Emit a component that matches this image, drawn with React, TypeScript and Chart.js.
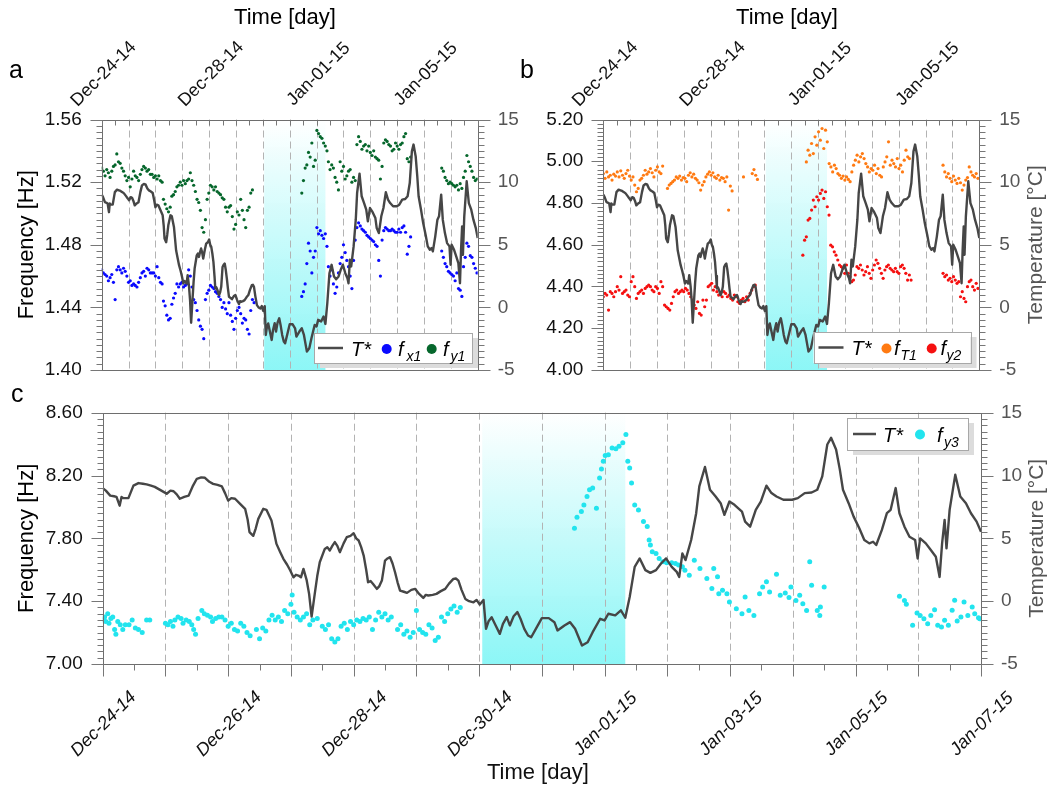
import React, { useEffect, useRef } from "react";
import { Chart, registerables } from "chart.js";
Chart.register(...registerables);

const FONT = '"Liberation Sans", Arial, Helvetica, sans-serif';
const W = 1050;
const H = 790;

// ---------------- axis labels ----------------
const topDateDays = [0, 4, 8, 12];
const topDateLabels = ["Dec-24-14", "Dec-28-14", "Jan-01-15", "Jan-05-15"];
const bottomDateDays = [0, 2, 4, 6, 8, 10, 12, 14];
const bottomDateLabels = ["Dec-24-14", "Dec-26-14", "Dec-28-14", "Dec-30-14", "Jan-01-15", "Jan-03-15", "Jan-05-15", "Jan-07-15"];
const coldPeriod = [6.05, 8.33];

// ---------------- T* (temperature, °C) vs day ----------------
const tDays = [0.00, 0.05, 0.12, 0.18, 0.22, 0.27, 0.30, 0.33, 0.41, 0.45, 0.49, 0.57, 0.64, 0.70, 0.77, 0.83, 0.90, 0.97, 1.02, 1.08, 1.13, 1.18, 1.23, 1.30, 1.37, 1.44, 1.50, 1.57, 1.63, 1.70, 1.76, 1.83, 1.90, 1.95, 2.00, 2.05, 2.11, 2.19, 2.27, 2.31, 2.34, 2.40, 2.44, 2.48, 2.56, 2.61, 2.69, 2.73, 2.77, 2.83, 2.88, 2.94, 2.99, 3.04, 3.08, 3.12, 3.16, 3.20, 3.25, 3.29, 3.33, 3.38, 3.42, 3.46, 3.54, 3.58, 3.62, 3.66, 3.70, 3.74, 3.78, 3.84, 3.89, 3.95, 4.00, 4.04, 4.08, 4.12, 4.16, 4.20, 4.23, 4.27, 4.31, 4.37, 4.41, 4.45, 4.50, 4.54, 4.58, 4.62, 4.66, 4.70, 4.74, 4.80, 4.85, 4.92, 4.98, 5.04, 5.11, 5.15, 5.19, 5.26, 5.32, 5.39, 5.46, 5.52, 5.59, 5.63, 5.67, 5.72, 5.78, 5.84, 5.91, 5.96, 6.01, 6.07, 6.11, 6.15, 6.20, 6.26, 6.33, 6.38, 6.44, 6.49, 6.55, 6.61, 6.66, 6.72, 6.78, 6.83, 6.92, 7.00, 7.11, 7.20, 7.25, 7.36, 7.45, 7.53, 7.64, 7.73, 7.81, 7.93, 8.00, 8.06, 8.17, 8.26, 8.33, 8.40, 8.48, 8.56, 8.65, 8.73, 8.82, 8.90, 8.98, 9.07, 9.15, 9.19, 9.24, 9.29, 9.38, 9.46, 9.51, 9.60, 9.68, 9.77, 9.85, 9.91, 9.99, 10.07, 10.19, 10.24, 10.32, 10.41, 10.49, 10.58, 10.66, 10.74, 10.85, 10.99, 11.08, 11.19, 11.30, 11.39, 11.47, 11.55, 11.61, 11.69, 11.75, 11.80, 11.89, 11.97, 12.06, 12.14, 12.22, 12.28, 12.33, 12.42, 12.50, 12.56, 12.64, 12.70, 12.78, 12.86, 12.95, 12.99, 13.03, 13.12, 13.20, 13.28, 13.34, 13.38, 13.42, 13.45, 13.50, 13.59, 13.67, 13.76, 13.84, 13.93, 14.00];
const tVals = [9.0, 8.8, 8.4, 8.35, 8.3, 7.6, 8.3, 8.2, 8.2, 8.7, 9.2, 9.4, 9.35, 9.3, 9.2, 9.1, 8.9, 8.7, 8.55, 8.8, 8.75, 8.5, 8.15, 8.3, 8.4, 9.2, 9.74, 9.85, 9.82, 9.5, 9.34, 9.25, 9.13, 8.6, 8.0, 8.2, 8.15, 7.75, 7.35, 6.5, 5.5, 5.2, 5.8, 6.55, 7.35, 7.27, 6.42, 5.5, 4.56, 3.9, 3.37, 2.9, 2.44, 1.9, 2.1, 2.04, 1.9, 2.57, 1.7, 0.58, -1.23, 0.58, 2.0, 3.1, 4.16, 4.3, 4.03, 4.4, 4.7, 4.4, 3.9, 4.6, 5.09, 5.2, 5.41, 5.0, 4.83, 4.3, 3.63, 2.5, 1.51, 1.6, 1.37, 0.98, 1.2, 1.64, 3.23, 3.4, 3.5, 3.0, 2.3, 1.5, 0.84, 0.75, 0.66, 0.9, 0.98, 0.6, 0.26, 0.5, 0.45, 0.5, 0.58, 0.8, 0.98, 1.4, 1.77, 1.8, 1.64, 0.9, 0.18, 0.0, -0.09, 0.1, -0.27, 0.1, -2.2, -1.6, -1.28, -1.9, -2.6, -1.8, -1.27, -1.93, -1.2, -0.87, -1.4, -2.2, -2.73, -2.87, -2.07, -1.35, -1.35, -1.67, -2.33, -1.93, -1.67, -2.2, -3.53, -3.27, -2.47, -1.4, -1.53, -1.0, -1.13, -0.73, -1.32, 0.33, 2.73, 3.4, 2.47, 2.25, 2.47, 3.0, 3.4, 2.73, 2.33, 1.93, 3.8, 3.27, 4.87, 7.0, 9.13, 10.68, 8.87, 8.33, 7.8, 6.87, 7.93, 7.67, 7.13, 6.33, 5.93, 7.27, 7.93, 9.19, 8.6, 8.33, 8.07, 8.07, 8.2, 8.6, 8.65, 8.87, 9.93, 12.47, 13.0, 12.07, 10.47, 8.87, 7.8, 6.73, 5.8, 4.87, 4.6, 4.73, 4.47, 5.67, 7.0, 7.27, 9.0, 7.0, 5.93, 5.13, 4.87, 3.4, 5.0, 4.6, 4.07, 3.53, 1.93, 4.6, 6.47, 4.2, 7.27, 10.07, 8.33, 7.8, 7.0, 6.33, 5.53];

// ---------------- panel a: f_x1 and f_y1 [Hz] (regular 1.5 h sampling in segments) ----------------
const STEP_A = 0.0625;
const fx1Starts = [0, 2.30, 7.45, 8.44, 12.66];
const fx1S1 = [1.464, 1.462, 1.461, 1.460, 1.457, 1.459, 1.461, 1.456, 1.445, 1.464, 1.466, 1.464, 1.462, 1.465, 1.463, 1.460, 1.456, 1.457, 1.454, 1.455, 1.454, 1.453, 1.456, 1.459, 1.462, 1.463, 1.460, 1.465, 1.464, 1.462, 1.462, 1.462, 1.460, 1.466, 1.459, 1.456, 1.455];
const fx1S2 = [1.444, 1.441, 1.435, 1.432, 1.433, 1.442, 1.446, 1.449, 1.455, 1.453, 1.455, 1.456, 1.453, 1.454, 1.455, 1.464, 1.460, 1.453, 1.445, 1.443, 1.438, 1.432, 1.428, 1.426, 1.420, 1.445, 1.449, 1.451, 1.454, 1.453, 1.452, 1.450, 1.449, 1.447, 1.445, 1.440, 1.443, 1.439, 1.436, 1.443, 1.435, 1.431, 1.426, 1.433, 1.438, 1.440, 1.436, 1.430, 1.433, 1.432, 1.426, 1.423, 1.438, 1.445, 1.443];
const fx1S3 = [1.447, 1.450, 1.455, 1.468, 1.481, 1.476, 1.462, 1.472, 1.476, 1.491, 1.487, 1.489, 1.486, 1.484, 1.487, 1.479];
const fx1S4 = [1.466, 1.460, 1.464, 1.455, 1.449, 1.453, 1.462, 1.468, 1.472, 1.480, 1.475, 1.470, 1.466, 1.460, 1.452, 1.470, 1.483, 1.491, 1.494, 1.492, 1.490, 1.489, 1.488, 1.486, 1.485, 1.484, 1.483, 1.482, 1.480, 1.479, 1.470, 1.460, 1.483, 1.489, 1.491, 1.490, 1.489, 1.489, 1.490, 1.489, 1.488, 1.488, 1.490, 1.488, 1.491, 1.492, 1.488, 1.474, 1.479, 1.485];
const fx1S5 = [1.476, 1.472, 1.468, 1.466, 1.463, 1.462, 1.461, 1.460, 1.457, 1.462, 1.452, 1.451, 1.447, 1.466, 1.472, 1.481, 1.479, 1.473, 1.472, 1.468, 1.465, 1.462];

const fy1Starts = [0, 2.30, 7.45, 8.44, 12.66];
const fy1S1 = [1.529, 1.527, 1.524, 1.528, 1.526, 1.523, 1.527, 1.530, 1.531, 1.538, 1.533, 1.532, 1.529, 1.527, 1.524, 1.521, 1.523, 1.517, 1.522, 1.527, 1.524, 1.523, 1.521, 1.525, 1.528, 1.530, 1.529, 1.527, 1.528, 1.525, 1.525, 1.523, 1.524, 1.522, 1.524, 1.521, 1.520];
const fy1S2 = [1.509, 1.506, 1.503, 1.501, 1.504, 1.511, 1.512, 1.514, 1.517, 1.518, 1.520, 1.518, 1.521, 1.519, 1.521, 1.522, 1.526, 1.521, 1.518, 1.514, 1.509, 1.507, 1.502, 1.491, 1.488, 1.496, 1.509, 1.513, 1.518, 1.517, 1.515, 1.517, 1.514, 1.513, 1.512, 1.510, 1.509, 1.504, 1.501, 1.504, 1.505, 1.498, 1.490, 1.493, 1.501, 1.499, 1.509, 1.502, 1.496, 1.491, 1.502, 1.504, 1.513, 1.515];
const fy1S3 = [1.513, 1.521, 1.529, 1.531, 1.539, 1.536, 1.545, 1.530, 1.534, 1.553, 1.551, 1.549, 1.548, 1.545, 1.543, 1.540];
const fy1S4 = [1.533, 1.528, 1.531, 1.529, 1.523, 1.520, 1.515, 1.533, 1.527, 1.530, 1.522, 1.524, 1.527, 1.528, 1.520, 1.523, 1.521, 1.544, 1.549, 1.546, 1.541, 1.543, 1.544, 1.540, 1.543, 1.539, 1.537, 1.540, 1.536, 1.535, 1.534, 1.522, 1.530, 1.545, 1.547, 1.546, 1.544, 1.543, 1.540, 1.541, 1.545, 1.543, 1.541, 1.544, 1.545, 1.549, 1.551, 1.535, 1.533, 1.536];
const fy1S5 = [1.529, 1.527, 1.523, 1.521, 1.519, 1.520, 1.519, 1.518, 1.517, 1.518, 1.515, 1.519, 1.516, 1.523, 1.527, 1.537, 1.533, 1.530, 1.527, 1.523, 1.521, 1.522];

// ---------------- panel b: f_T1 and f_y2 [Hz] ----------------
const STEP_B = 0.065;
const fT1Starts = [0, 2.39, 5.22, 7.56, 8.41, 12.65];
const fT1S1 = [4.941, 4.918, 4.949, 4.925, 4.933, 4.910, 4.938, 4.929, 4.949, 4.925, 4.954, 4.933, 4.918, 4.941, 4.957, 4.929, 4.910, 4.925, 4.886, 4.854, 4.870, 4.910, 4.918, 4.933, 4.957, 4.938, 4.949, 4.965, 4.945, 4.925, 4.957, 4.973, 4.949, 4.941, 4.977];
const fT1S2 = [4.870, 4.886, 4.894, 4.902, 4.910, 4.925, 4.918, 4.929, 4.910, 4.922, 4.918, 4.902, 4.933, 4.945, 4.925, 4.938, 4.918, 4.910, 4.897, 4.862, 4.886, 4.902, 4.925, 4.938, 4.949, 4.933, 4.945, 4.925, 4.918, 4.933, 4.910, 4.922, 4.918, 4.902, 4.925, 4.766, 4.881, 4.858];
const fT1S3 = [4.925, null, null, null, null, 4.941, 4.960, 4.933, 4.913];
const fT1S4 = [4.997, 5.053, 5.029, 5.085, 5.037, 5.117, 5.077, 5.141, 5.101, 5.157, 5.061, 5.149, 5.093];
const fT1S5 = [4.989, 4.973, 4.949, 4.981, 4.965, 4.941, 4.933, 4.918, 4.929, 4.910, 4.925, 4.913, 4.902, 4.949, 4.981, 5.005, 5.029, 4.997, 5.021, 5.037, 5.013, 4.989, 4.973, 4.949, 4.965, 4.957, 4.981, 4.941, 4.965, 4.933, 4.925, 4.973, 4.997, 5.021, 5.093, 4.981, 5.005, 4.989, 4.973, 5.013, 4.965, 4.981, 4.949, 5.005, 5.053, 5.021, 5.013];
const fT1S6 = [4.981, 4.949, 4.925, 4.941, 4.918, 4.902, 4.929, 4.910, 4.894, 4.918, 4.897, 4.862, 4.886, 4.910, 4.922, 4.973, 4.949, 4.933, 4.925, 4.941, 4.918];

const fy2Starts = [0, 2.28, 7.43, 8.47, 12.65];
const fy2S1 = [4.351, 4.367, 4.359, 4.287, 4.375, 4.367, 4.351, 4.375, 4.399, 4.383, 4.447, 4.367, 4.375, 4.383, 4.359, 4.351, 4.423, 4.447, 4.399, 4.343, 4.367, 4.375, 4.383, 4.367, 4.391, 4.399, 4.407, 4.399, 4.383, 4.375, 4.399, 4.391, 4.367, 4.423, 4.399];
const fy2S2 = [4.311, 4.303, 4.295, 4.287, 4.319, 4.351, 4.375, 4.383, 4.367, 4.375, 4.383, 4.375, 4.391, 4.383, 4.367, 4.351, 4.335, 4.311, 4.295, 4.327, 4.271, 4.263, 4.335, 4.303, 4.335, 4.399, 4.407, 4.415, 4.383, 4.399, 4.375, 4.359, 4.367, 4.351, 4.375, 4.367, 4.351, 4.359, 4.343, 4.335, 4.359, 4.351, 4.327, 4.319, 4.335, 4.343, 4.327, 4.351, 4.335, 4.367, 4.383, 4.399, 4.407];
const fy2S3 = [4.550, 4.622, 4.638, 4.718, 4.726, 4.766, 4.814, 4.782, 4.830, 4.814, 4.846, 4.862, 4.822, 4.854, 4.782, 4.742];
const fy2S4 = [4.598, 4.590, 4.566, 4.550, 4.527, 4.503, 4.495, 4.487, 4.463, 4.503, 4.463, 4.447, 4.423, 4.431, 4.455, 4.495, 4.487, 4.503, 4.479, 4.455, 4.471, 4.495, 4.463, 4.439, 4.479, 4.503, 4.527, 4.511, 4.487, 4.463, 4.439, 4.479, 4.495, 4.503, 4.487, 4.479, 4.471, 4.487, 4.471, 4.463, 4.495, 4.503, 4.487, 4.463, 4.431, 4.455, 4.431];
const fy2S5 = [4.463, 4.447, 4.455, 4.431, 4.439, 4.423, 4.447, 4.431, 4.415, 4.423, 4.351, 4.375, 4.343, 4.327, 4.399, 4.423, 4.431, 4.399, 4.383, 4.415, 4.391];

// ---------------- panel c: f_y3 [Hz] ----------------
const fy3Days = [0.01, 0.03, 0.05, 0.08, 0.10, 0.13, 0.16, 0.19, 0.21, 0.24, 0.28, 0.32, 0.36, 0.42, 0.47, 0.52, 0.57, 0.63, 0.70, 0.75,
  1.00, 1.04, 1.08, 1.12, 1.15, 1.20, 1.25, 1.28, 1.33, 1.38, 1.42, 1.45, 1.48, 1.52, 1.58, 1.62, 1.67, 1.72, 1.75, 1.80, 1.85, 1.90, 1.95,
  2.00, 2.05, 2.10, 2.15, 2.20, 2.25, 2.30, 2.35, 2.45, 2.50, 2.55, 2.60, 2.65, 2.70, 2.75, 2.80, 2.85, 2.90, 2.95, 3.00, 3.02, 3.05, 3.10, 3.15, 3.20, 3.25, 3.30, 3.35, 3.42,
  3.50, 3.55, 3.60, 3.65, 3.70, 3.75, 3.80, 3.85, 3.90, 3.95, 4.00, 4.05, 4.10, 4.15, 4.20, 4.25, 4.30, 4.35, 4.40, 4.45, 4.50, 4.55, 4.60,
  4.70, 4.75, 4.80, 4.85, 4.90, 4.95, 5.00, 5.05, 5.10, 5.15, 5.20, 5.25, 5.30, 5.35, 5.40, 5.45, 5.50, 5.55, 5.60, 5.65, 5.70,
  7.52, 7.56, 7.63, 7.67, 7.72, 7.76, 7.81, 7.87, 7.92, 7.95, 7.98, 8.01, 8.06, 8.12, 8.18, 8.23, 8.29, 8.34, 8.37, 8.40, 8.43, 8.48, 8.54, 8.62, 8.68, 8.71, 8.73, 8.76, 8.82, 8.87, 8.93, 8.99, 9.07, 9.13, 9.18,
  9.24, 9.28, 9.35, 9.43, 9.52, 9.63, 9.71, 9.74, 9.80, 9.82, 9.88, 9.95, 9.99, 10.10, 10.19, 10.24, 10.30, 10.38, 10.47, 10.52, 10.58, 10.63, 10.74, 10.80, 10.88, 10.94, 10.97, 11.05, 11.11, 11.16, 11.22, 11.27, 11.30, 11.39, 11.43, 11.44, 11.50,
  12.70, 12.78, 12.81, 12.91, 12.98, 13.03, 13.09, 13.15, 13.20, 13.26, 13.31, 13.37, 13.42, 13.48, 13.54, 13.58, 13.62, 13.68, 13.73, 13.79, 13.86, 13.90, 13.96, 13.98];
const fy3Vals = [7.28, 7.30, 7.27, 7.32, 7.26, 7.29, 7.30, 7.22, 7.19, 7.27, 7.25, 7.22, 7.25, 7.25, 7.28, 7.23, 7.22, 7.20, 7.28, 7.28,
  7.26, 7.25, 7.27, 7.24, 7.28, 7.30, 7.29, 7.26, 7.28, 7.27, 7.25, 7.22, 7.19, 7.29, 7.34, 7.32, 7.31, 7.30, 7.27, 7.29, 7.30, 7.30, 7.28,
  7.24, 7.26, 7.22, 7.21, 7.26, 7.24, 7.20, 7.18, 7.22, 7.16, 7.23, 7.21, 7.28, 7.31, 7.28, 7.30, 7.27, 7.34, 7.32, 7.38, 7.44, 7.33, 7.30, 7.28, 7.30, 7.32, 7.25, 7.28, 7.29,
  7.24, 7.22, 7.25, 7.16, 7.14, 7.16, 7.24, 7.26, 7.22, 7.27, 7.25, 7.28, 7.27, 7.29, 7.28, 7.30, 7.22, 7.28, 7.33, 7.30, 7.32, 7.28, 7.30,
  7.22, 7.25, 7.19, 7.21, 7.17, 7.20, 7.34, 7.22, 7.20, 7.19, 7.25, 7.23, 7.15, 7.17, 7.30, 7.27, 7.32, 7.35, 7.37, 7.33, 7.36,
  7.864, 7.934, 7.971, 8.013, 8.067, 8.109, 8.12, 7.992, 8.184, 8.242, 8.291, 8.327, 8.333, 8.376, 8.37, 8.387, 8.408, 8.461, 8.291, 8.248, 8.152, 8.013, 7.981, 7.907, 7.875, 7.79, 7.757, 7.715, 7.704, 7.672, 7.651, 7.644, 7.644, 7.64, 7.63,
  7.619, 7.597, 7.565, 7.661, 7.608, 7.544, 7.48, 7.608, 7.555, 7.448, 7.469, 7.448, 7.395, 7.352, 7.32, 7.427, 7.341, 7.309, 7.448, 7.491, 7.523, 7.459, 7.572, 7.437, 7.452, 7.423, 7.491, 7.405, 7.437, 7.384, 7.341, 7.651, 7.502, 7.341, 7.309, 7.363, 7.491,
  7.431, 7.405, 7.38, 7.246, 7.324, 7.309, 7.288, 7.256, 7.309, 7.346, 7.246, 7.235, 7.278, 7.246, 7.342, 7.406, 7.273, 7.299, 7.395, 7.309, 7.363, 7.32, 7.295, 7.288];

// ---------------- helpers ----------------
function pairs(xs: number[], ys: number[]) {
  const n = Math.min(xs.length, ys.length);
  const out: { x: number; y: number }[] = [];
  for (let i = 0; i < n; i++) out.push({ x: xs[i], y: ys[i] });
  return out;
}
function fromSegments(starts: number[], segs: (number | null)[][], step: number) {
  const out: { x: number; y: number }[] = [];
  segs.forEach((s, i) => s.forEach((v, j) => { if (v !== null) out.push({ x: starts[i] + j * step, y: v as number }); }));
  return out;
}

const C_BLUE = "#0a0aff";
const C_GREEN = "#06672c";
const C_ORANGE = "#ff7a12";
const C_RED = "#f51010";
const C_CYAN = "#22e4ee";

const panels = [
  {
    key: "a",
    area: { l: 101.7, r: 477.7, t: 119.5, b: 370 },
    yMin: 1.40, yMax: 1.56, yMajor: 0.04, yMinor: 0.004,
    xAxis: "top",
    letter: "a", letterPos: [9, 78],
    topTitle: [285, 18],
    leftTitle: [27, 244.75], rightTitle: null,
    radius: 1.6,
    series: [
      { name: "x1", color: C_BLUE, pts: fromSegments(fx1Starts, [fx1S1, fx1S2, fx1S3, fx1S4, fx1S5], STEP_A) },
      { name: "y1", color: C_GREEN, pts: fromSegments(fy1Starts, [fy1S1, fy1S2, fy1S3, fy1S4, fy1S5], STEP_A) },
    ],
    legend: { x: 314, y: 333, w: 158, h: 30, lx0: 318, lx1: 343, ly: 348, tX: 351, base: 355.5, dotY: 349,
      items: [{ dot: 386.7, color: C_BLUE, fX: 398, sub: "x1", subX: 406.5 }, { dot: 431.7, color: C_GREEN, fX: 443, sub: "y1", subX: 450.5 }] },
  },
  {
    key: "b",
    area: { l: 603.3, r: 979.3, t: 119.5, b: 370 },
    yMin: 4.00, yMax: 5.20, yMajor: 0.20, yMinor: 0.02,
    xAxis: "top",
    letter: "b", letterPos: [520, 78],
    topTitle: [787, 18],
    leftTitle: null, rightTitle: [1036, 244.75],
    radius: 1.6,
    series: [
      { name: "T1", color: C_ORANGE, pts: fromSegments(fT1Starts, [fT1S1, fT1S2, fT1S3, fT1S4, fT1S5, fT1S6], STEP_B) },
      { name: "y2", color: C_RED, pts: fromSegments(fy2Starts, [fy2S1, fy2S2, fy2S3, fy2S4, fy2S5], STEP_B) },
    ],
    legend: { x: 813.5, y: 332, w: 157, h: 31, lx0: 818.5, lx1: 843.5, ly: 347.5, tX: 851.5, base: 355, dotY: 348.5,
      items: [{ dot: 886.5, color: C_ORANGE, fX: 894, sub: "T1", subX: 900.5 }, { dot: 931.7, color: C_RED, fX: 940.5, sub: "y2", subX: 946.5 }] },
  },
  {
    key: "c",
    area: { l: 102.7, r: 981, t: 412.7, b: 664 },
    yMin: 7.00, yMax: 8.60, yMajor: 0.40, yMinor: 0.04,
    xAxis: "bottom",
    letter: "c", letterPos: [11, 402],
    topTitle: null,
    leftTitle: [27, 538.3], rightTitle: [1037, 538.3],
    radius: 2.5,
    series: [
      { name: "y3", color: C_CYAN, pts: pairs(fy3Days, fy3Vals) },
    ],
    legend: { x: 847, y: 418, w: 121, h: 32, lx0: 853, lx1: 876, ly: 434, tX: 883, base: 441.5, dotY: 434.5,
      items: [{ dot: 920, color: C_CYAN, fX: 937, sub: "y3", subX: 944 }] },
  },
];

function drawRot(ctx: CanvasRenderingContext2D, text: string, x: number, y: number, ang: number) {
  ctx.save();
  ctx.translate(x, y);
  ctx.rotate(ang);
  ctx.textAlign = "center";
  ctx.textBaseline = "middle";
  ctx.fillText(text, 0, 0);
  ctx.restore();
}

function makeDecor(cfg: any) {
  return {
    id: "decor_" + cfg.key,
    beforeDatasetsDraw(chart: any) {
      const { ctx, chartArea: a, scales } = chart;
      const xs = scales.x;
      ctx.save();
      const x1 = xs.getPixelForValue(coldPeriod[0]);
      const x2 = xs.getPixelForValue(coldPeriod[1]);
      const g = ctx.createLinearGradient(0, a.top, 0, a.bottom);
      g.addColorStop(0, "rgba(140,246,246,0)");
      g.addColorStop(1, "rgba(140,246,246,1)");
      ctx.fillStyle = g;
      ctx.fillRect(x1, a.top, x2 - x1, a.bottom - a.top + 1);
      ctx.strokeStyle = "#b3b3b3";
      ctx.lineWidth = 1;
      ctx.setLineDash([7, 4]);
      for (let d = 1; d < 14; d++) {
        const px = Math.round(xs.getPixelForValue(d)) + 0.5;
        ctx.beginPath();
        ctx.moveTo(px, a.top);
        ctx.lineTo(px, a.bottom);
        ctx.stroke();
      }
      ctx.restore();
    },
    afterDatasetsDraw(chart: any) {
      const { ctx, chartArea: a, scales } = chart;
      const xs = scales.x, ys = scales.y, yt = scales.yT;
      ctx.save();
      ctx.setLineDash([]);
      // frame
      const L = Math.round(a.left) + 0.5, R = Math.round(a.right) + 0.5, T = Math.round(a.top) + 0.5, B = Math.round(a.bottom) + 0.5;
      ctx.strokeStyle = "#6e6e6e";
      ctx.lineWidth = 1;
      ctx.strokeRect(L, T, R - L, B - T);
      // left ticks
      ctx.strokeStyle = "#777";
      ctx.beginPath();
      const n = Math.round((cfg.yMax - cfg.yMin) / cfg.yMinor);
      const per = Math.round(cfg.yMajor / cfg.yMinor);
      for (let i = 0; i <= n; i++) {
        const py = Math.round(ys.getPixelForValue(cfg.yMin + i * cfg.yMinor)) + 0.5;
        const len = i % per === 0 ? 12 : 6;
        ctx.moveTo(L - len, py); ctx.lineTo(L, py);
      }
      // right ticks (temperature)
      for (let i = 0; i <= 40; i++) {
        const py = Math.round(yt.getPixelForValue(-5 + i * 0.5)) + 0.5;
        const len = i % 10 === 0 ? 12 : 6;
        ctx.moveTo(R, py); ctx.lineTo(R + len, py);
      }
      // x ticks
      for (let i = 0; i <= 28; i++) {
        const px = Math.round(xs.getPixelForValue(i * 0.5)) + 0.5;
        if (cfg.xAxis === "top") {
          ctx.moveTo(px, T); ctx.lineTo(px, T + 5);
        } else {
          const len = i % 2 === 0 ? 12 : 6;
          ctx.moveTo(px, B); ctx.lineTo(px, B + len);
        }
      }
      ctx.stroke();

      // y tick labels
      ctx.font = `19px ${FONT}`;
      ctx.fillStyle = "#111";
      ctx.textAlign = "right";
      ctx.textBaseline = "middle";
      for (let i = 0; i <= n; i += per) {
        const v = cfg.yMin + i * cfg.yMinor;
        ctx.fillText(v.toFixed(2), a.left - 20, ys.getPixelForValue(v));
      }
      ctx.fillStyle = "#555";
      ctx.textAlign = "left";
      for (let v = -5; v <= 15; v += 5) {
        ctx.fillText(String(v), a.right + 20, yt.getPixelForValue(v));
      }
      // x tick labels
      ctx.fillStyle = "#111";
      if (cfg.xAxis === "top") {
        ctx.font = `18px ${FONT}`;
        topDateDays.forEach((d, i) => drawRot(ctx, topDateLabels[i], xs.getPixelForValue(d) + 2, a.top - 45.5, -Math.PI / 4));
      } else {
        ctx.font = `italic 18px ${FONT}`;
        bottomDateDays.forEach((d, i) => drawRot(ctx, bottomDateLabels[i], xs.getPixelForValue(d) + 1, a.bottom + 60, -Math.PI / 4));
        ctx.font = `22px ${FONT}`;
        drawRot(ctx, "Time [day]", (a.left + a.right) / 2 - 4, 773, 0);
      }
      // titles
      ctx.font = `22px ${FONT}`;
      ctx.fillStyle = "#000";
      if (cfg.topTitle) drawRot(ctx, "Time [day]", cfg.topTitle[0], cfg.topTitle[1], 0);
      if (cfg.leftTitle) drawRot(ctx, "Frequency [Hz]", cfg.leftTitle[0], cfg.leftTitle[1], -Math.PI / 2);
      if (cfg.rightTitle) {
        ctx.fillStyle = "#555";
        ctx.font = `21px ${FONT}`;
        drawRot(ctx, "Temperature [°C]", cfg.rightTitle[0], cfg.rightTitle[1], -Math.PI / 2);
      }
      // panel letter
      ctx.fillStyle = "#000";
      ctx.font = `25px ${FONT}`;
      ctx.textAlign = "left";
      ctx.textBaseline = "alphabetic";
      ctx.fillText(cfg.letter, cfg.letterPos[0], cfg.letterPos[1]);

      // legend
      const lg = cfg.legend;
      ctx.fillStyle = "#dcdcdc";
      ctx.fillRect(lg.x + 6, lg.y + 5, lg.w, lg.h);
      ctx.fillStyle = "#fff";
      ctx.fillRect(lg.x, lg.y, lg.w, lg.h);
      ctx.strokeStyle = "#a8a8a8";
      ctx.lineWidth = 1;
      ctx.strokeRect(Math.round(lg.x) + 0.5, Math.round(lg.y) + 0.5, lg.w, lg.h);
      ctx.strokeStyle = "#4a4a4a";
      ctx.lineWidth = 2.5;
      ctx.beginPath();
      ctx.moveTo(lg.lx0, lg.ly); ctx.lineTo(lg.lx1, lg.ly);
      ctx.stroke();
      ctx.fillStyle = "#000";
      ctx.font = `italic 20px ${FONT}`;
      ctx.textAlign = "left";
      ctx.textBaseline = "alphabetic";
      ctx.fillText("T*", lg.tX, lg.base);
      lg.items.forEach((it: any) => {
        ctx.fillStyle = it.color;
        ctx.beginPath();
        ctx.arc(it.dot, lg.dotY, 5, 0, Math.PI * 2);
        ctx.fill();
        ctx.fillStyle = "#000";
        ctx.font = `italic 20px ${FONT}`;
        ctx.fillText("f", it.fX, lg.base);
        ctx.font = `italic 14px ${FONT}`;
        ctx.fillText(it.sub, it.subX, lg.base + 5);
      });
      ctx.restore();
    },
  };
}

function Panel({ cfg }: { cfg: any }) {
  const ref = useRef<HTMLCanvasElement | null>(null);
  useEffect(() => {
    const canvas = ref.current;
    if (!canvas) return;
    const a = cfg.area;
    const chart = new Chart(canvas, {
      type: "scatter",
      data: {
        datasets: [
          {
            label: "T*",
            data: pairs(tDays, tVals),
            yAxisID: "yT",
            showLine: true,
            borderColor: "#464646",
            borderWidth: 2.4,
            borderJoinStyle: "round",
            pointRadius: 0,
            tension: 0,
            fill: false,
          } as any,
          ...cfg.series.map((s: any) => ({
            label: "f" + s.name,
            data: s.pts,
            yAxisID: "y",
            showLine: false,
            pointRadius: cfg.radius,
            pointBackgroundColor: s.color,
            pointBorderColor: s.color,
            pointBorderWidth: 0,
          })),
        ],
      },
      options: {
        animation: false,
        responsive: false,
        devicePixelRatio: 1,
        events: [],
        layout: { padding: { left: a.l, right: W - a.r, top: a.t, bottom: H - a.b } },
        plugins: { legend: { display: false }, tooltip: { enabled: false } },
        scales: {
          x: { type: "linear", display: false, min: 0, max: 14 },
          y: { type: "linear", display: false, min: cfg.yMin, max: cfg.yMax },
          yT: { type: "linear", display: false, min: -5, max: 15 },
        },
      } as any,
      plugins: [makeDecor(cfg)],
    });
    return () => chart.destroy();
  }, [cfg]);
  return <canvas ref={ref} width={W} height={H} style={{ position: "absolute", left: 0, top: 0 }} />;
}

export default function App() {
  useEffect(() => {
    document.body.style.margin = "0";
    document.body.style.background = "#fff";
  }, []);
  return (
    <div style={{ position: "relative", width: W, height: H, background: "#fff" }}>
      {panels.map((p) => (
        <Panel key={p.key} cfg={p} />
      ))}
    </div>
  );
}
